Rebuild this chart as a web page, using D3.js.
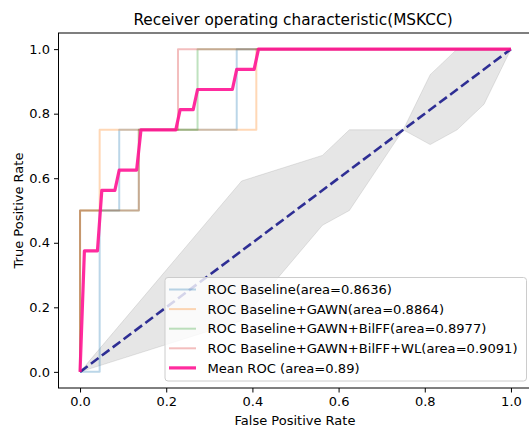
<!DOCTYPE html>
<html>
<head>
<meta charset="utf-8">
<script src="https://cdn.jsdelivr.net/npm/d3@7"></script>
<style>
  html, body { margin: 0; padding: 0; background: #fff; }
  svg { display: block; font-family: "DejaVu Sans", sans-serif; }
</style>
</head>
<body>
<svg id="chart" width="529" height="427"></svg>
<script>
// ---------- data ----------
const title = "Receiver operating characteristic(MSKCC)";
const xLabel = "False Positive Rate";
const yLabel = "True Positive Rate";
const tickValues = [0, 0.2, 0.4, 0.6, 0.8, 1.0];

const seriesNames = [
  "ROC Baseline(area=0.8636)",
  "ROC Baseline+GAWN(area=0.8864)",
  "ROC Baseline+GAWN+BilFF(area=0.8977)",
  "ROC Baseline+GAWN+BilFF+WL(area=0.9091)"
];
const meanName = "Mean ROC (area=0.89)";

const fprBaseline = [0, 0.0455, 0.0455, 0.0909, 0.0909, 0.3636, 0.3636, 1];
const tprBaseline = [0, 0, 0.5, 0.5, 0.75, 0.75, 1, 1];

const fprGAWN = [0, 0, 0.0455, 0.0455, 0.4091, 0.4091, 1];
const tprGAWN = [0, 0.5, 0.5, 0.75, 0.75, 1, 1];

const fprBilFF = [0, 0, 0.1364, 0.1364, 0.2727, 0.2727, 1];
const tprBilFF = [0, 0.5, 0.5, 0.75, 0.75, 1, 1];

const fprWL = [0, 0, 0.1364, 0.1364, 0.2273, 0.2273, 1];
const tprWL = [0, 0.5, 0.5, 0.75, 0.75, 1, 1];

const fprMean = [0, 0.0101, 0.0404, 0.0505, 0.0808, 0.0909, 0.1313, 0.1414, 0.2222, 0.2323, 0.2626, 0.2727, 0.3535, 0.3636, 0.4040, 0.4141, 1.0];
const tprMean = [0, 0.375, 0.375, 0.5625, 0.5625, 0.625, 0.625, 0.75, 0.75, 0.8125, 0.8125, 0.875, 0.875, 0.9375, 0.9375, 1.0, 1.0];

const bandX     = [0, 0.375, 0.5625, 0.625, 0.75, 0.8125, 0.875, 0.9375, 1];
const bandUpper = [0, 0.5915, 0.6708, 0.75, 0.75, 0.9208, 1.0, 1.0, 1];
const bandLower = [0, 0.1585, 0.4542, 0.5, 0.75, 0.7042, 0.75, 0.8292, 1];

const chanceX = [0, 1];
const chanceY = [0, 1];

const seriesColors = ["#1f77b4", "#ff7f0e", "#2ca02c", "#d62728"];
const meanColor = "#ff1493";

// ---------- layout ----------
const svg = d3.select("#chart");
const axLeft = 58.5, axRight = 532.5, axTop = 33, axBottom = 388;

const x = d3.scaleLinear().domain([-0.05, 1.05]).range([axLeft, axRight]);
const y = d3.scaleLinear().domain([-0.05, 1.05]).range([axBottom, axTop]);

const zip = (xs, ys) => xs.map((v, i) => [v, ys[i]]);
const line = d3.line().x(d => x(d[0])).y(d => y(d[1]));

// band
const band = bandX.map((v, i) => ({x: v, lo: bandLower[i], hi: bandUpper[i]}));
svg.append("path")
  .datum(band)
  .attr("d", d3.area().x(d => x(d.x)).y0(d => y(d.lo)).y1(d => y(d.hi)))
  .attr("fill", "grey").attr("fill-opacity", 0.2)
  .attr("stroke", "grey").attr("stroke-opacity", 0.2).attr("stroke-width", 1);

// individual curves
const curves = [
  zip(fprBaseline, tprBaseline),
  zip(fprGAWN, tprGAWN),
  zip(fprBilFF, tprBilFF),
  zip(fprWL, tprWL)
];
curves.forEach((c, i) => {
  svg.append("path").datum(c).attr("d", line)
    .attr("fill", "none").attr("stroke", seriesColors[i])
    .attr("stroke-opacity", 0.3).attr("stroke-width", 2)
    .attr("stroke-linejoin", "round");
});

// chance line
svg.append("path").datum(zip(chanceX, chanceY)).attr("d", line)
  .attr("fill", "none").attr("stroke", "navy").attr("stroke-opacity", 0.8)
  .attr("stroke-width", 2.6).attr("stroke-dasharray", "9.5,4.1");

// mean curve
svg.append("path").datum(zip(fprMean, tprMean)).attr("d", line)
  .attr("fill", "none").attr("stroke", meanColor).attr("stroke-opacity", 0.9)
  .attr("stroke-width", 3.2).attr("stroke-linejoin", "round");

// spines
svg.append("rect").attr("x", axLeft).attr("y", axTop)
  .attr("width", axRight - axLeft).attr("height", axBottom - axTop)
  .attr("fill", "none").attr("stroke", "#000").attr("stroke-width", 1);

// axes
const fmt = d3.format(".1f");
const gx = svg.append("g").attr("transform", `translate(0,${axBottom})`)
  .call(d3.axisBottom(x).tickValues(tickValues).tickFormat(fmt).tickSize(4.5).tickSizeOuter(0).tickPadding(4));
const gy = svg.append("g").attr("transform", `translate(${axLeft},0)`)
  .call(d3.axisLeft(y).tickValues(tickValues).tickFormat(fmt).tickSize(4.5).tickSizeOuter(0).tickPadding(4));
[gx, gy].forEach(g => {
  g.select(".domain").remove();
  g.selectAll("line").attr("stroke", "#000").attr("stroke-width", 1);
  g.selectAll("text").attr("fill", "#000").style("font-size", "13px")
    .style("font-family", "DejaVu Sans");
});

// title and labels
svg.append("text").attr("x", 293).attr("y", 25).attr("text-anchor", "middle")
  .style("font-size", "15.3px").attr("fill", "#000").text(title);
svg.append("text").attr("x", 295).attr("y", 424.5).attr("text-anchor", "middle")
  .style("font-size", "13px").attr("fill", "#000").text(xLabel);
svg.append("text").attr("transform", `translate(23,${(axTop + axBottom) / 2}) rotate(-90)`)
  .attr("text-anchor", "middle").style("font-size", "13px").attr("fill", "#000").text(yLabel);

// legend
const lgX = 165, lgY = 277.5, lgW = 361.5, lgH = 103.5;
const lg = svg.append("g");
lg.append("rect").attr("x", lgX).attr("y", lgY).attr("width", lgW).attr("height", lgH)
  .attr("rx", 3).attr("fill", "#fff").attr("fill-opacity", 0.8)
  .attr("stroke", "#cccccc").attr("stroke-width", 1);
const entries = seriesNames.map((n, i) => ({name: n, color: seriesColors[i], op: 0.3, w: 2}))
  .concat([{name: meanName, color: meanColor, op: 0.9, w: 3.2}]);
entries.forEach((e, i) => {
  const cy = 289.5 + i * 19.6;
  lg.append("line").attr("x1", 169).attr("x2", 196).attr("y1", cy).attr("y2", cy)
    .attr("stroke", e.color).attr("stroke-opacity", e.op).attr("stroke-width", e.w);
  lg.append("text").attr("x", 207.5).attr("y", cy).attr("dy", "0.36em")
    .style("font-size", "13.1px").attr("fill", "#000").text(e.name);
});
</script>
</body>
</html>
